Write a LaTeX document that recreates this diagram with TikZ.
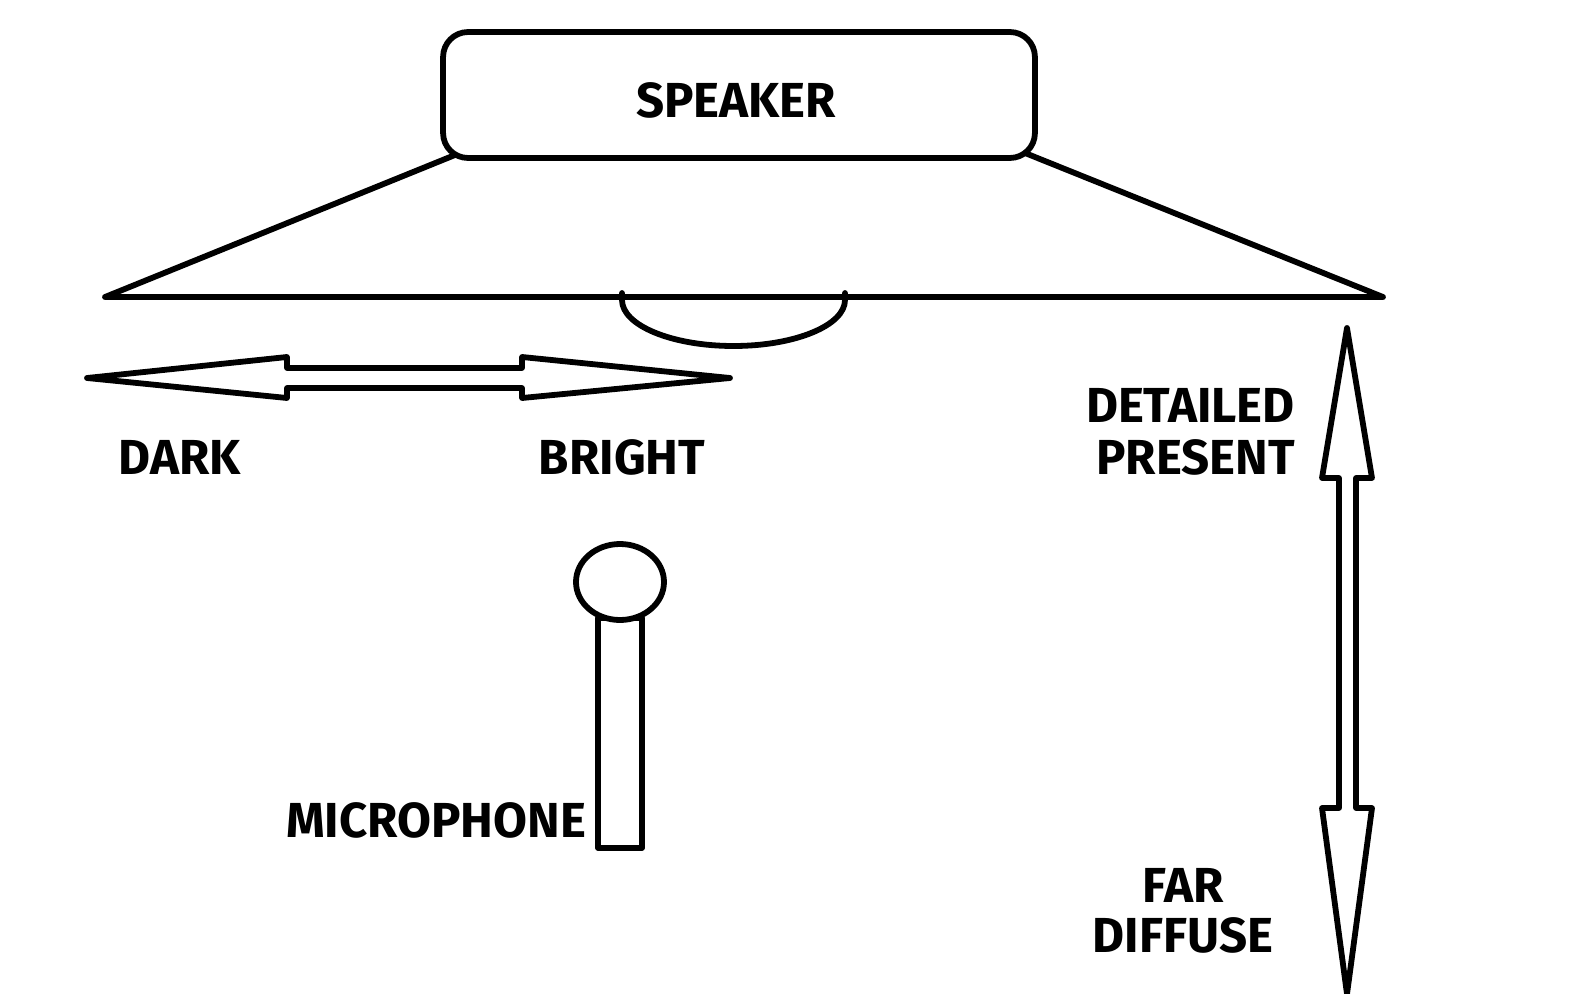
\documentclass[tikz,border=0pt]{standalone}
\usepackage{fontspec}
\setmainfont{Fira Sans}
\begin{document}
\begin{tikzpicture}[x=0.02cm,y=-0.02cm,
  ln/.style={line width=3.3pt,line join=round,line cap=round},
  lab/.style={font=\fontsize{28}{30}\selectfont\bfseries,inner sep=0pt}]
\fill[white] (0,0) rectangle (1583,994);
\node[ln,draw,rounded corners=0.5cm,minimum width=11.84cm,minimum height=2.52cm] (spk) at (739,95) {};
\node[lab] (spkl) at (736,100) {SPEAKER};
\coordinate (tl) at (455,155); \coordinate (tr) at (1025,153);
\coordinate (bl) at (105,297); \coordinate (br) at (1383,297);
\draw[ln] (tl) -- (bl) -- (br) -- (tr);
\coordinate (ea) at (622,293);
\draw[ln] (ea) -- (622,300) arc[start angle=180,end angle=0,x radius=111.5,y radius=46] -- (845,293);
% horizontal double arrow
\draw[ln] (87,378) -- (287,357) -- (287,368) -- (522,368) -- (522,357) -- (730,378)
  -- (522,398) -- (522,388) -- (287,388) -- (287,398) -- cycle;
% vertical double arrow
\draw[ln] (1347,328) -- (1372,478) -- (1356,478) -- (1356,808) -- (1372,808) -- (1347,994)
  -- (1322,808) -- (1339,808) -- (1339,478) -- (1322,478) -- cycle;
\node[lab] (dark) at (180,457) {DARK};
\node[lab] (bright) at (622,457) {BRIGHT};
\node[lab,anchor=east] (det) at (1295,405) {DETAILED};
\node[lab,anchor=east] (pres) at (1295,457) {PRESENT};
\node[lab] (far) at (1183,885) {FAR};
\node[lab] (diff) at (1183,935) {DIFFUSE};
\node[lab] (mic) at (436,820) {MICROPHONE};
% microphone
\draw[ln] (598,618) rectangle (642,848);
\draw[ln,fill=white] (620,582) ellipse[x radius=44,y radius=38];
\pgfresetboundingbox
\useasboundingbox (0,0) rectangle (1583,994);
\end{tikzpicture}
\end{document}
